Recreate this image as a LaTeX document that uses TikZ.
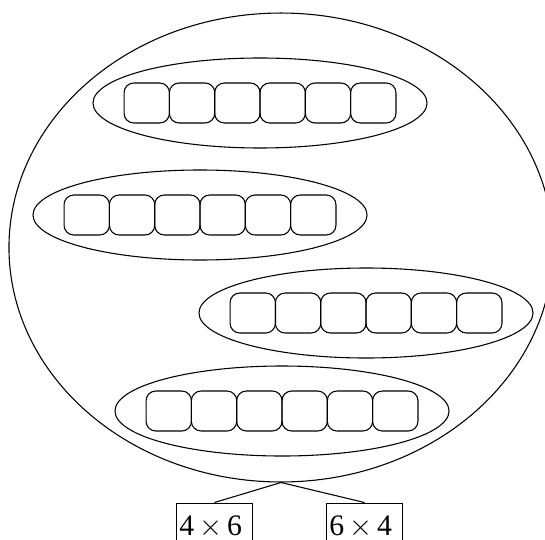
\documentclass[tikz,border=0pt]{standalone}
\usepackage{fontspec}
\setmainfont{Liberation Serif}
\usetikzlibrary{positioning,shapes.geometric}

\begin{document}
\begin{tikzpicture}[x=0.37pt, y=-0.37pt,
  cell/.style={draw, rounded corners=3.6pt, minimum width=16.8pt, minimum height=14.8pt, inner sep=0pt},
  ring/.style={draw, ellipse, minimum width=123.6pt, minimum height=33.3pt, inner sep=0pt},
  lbl/.style={draw, anchor=north, font=\fontsize{11}{13}\selectfont, text width=26pt,
              inner xsep=1pt, inner ysep=4.6pt}]
  \useasboundingbox (0,0) rectangle (545,539);
  \clip (0,0) rectangle (545,539);
  \node[draw, ellipse, minimum width=201.3pt, minimum height=173.5pt, inner sep=0pt] (all) at (281,247.5) {};
  % four rows of six cells, each in its own ellipse
  \foreach \r/\cx/\cy in {1/260/103, 2/200/215, 3/366/313, 4/282/411} {
    \node[ring] (r\r) at (\cx,\cy) {};
    \foreach \i in {1,...,6}
      \node[cell] (c\r\i) at ({\cx+(\i-3.5)*45.3},\cy) {};
  }
  \node[lbl] (a) at (214.5,502.5) {4\,$\times$\,6};
  \node[lbl] (b) at (364.5,502.5) {6\,$\times$\,4};
  \draw (all.south) -- (a.north);
  \draw (all.south) -- (b.north);
\end{tikzpicture}
\end{document}
